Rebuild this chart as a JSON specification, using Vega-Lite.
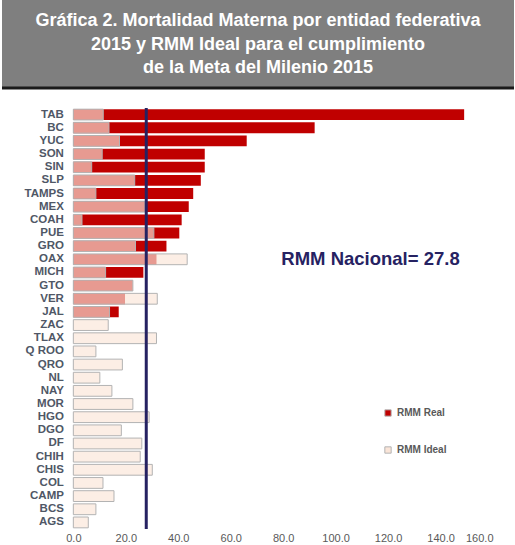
{
  "$schema": "https://vega.github.io/schema/vega-lite/v6.json",
  "padding": 0,
  "spacing": 16,
  "config": {"view": {"stroke": null}},
  "vconcat": [
    {
      "width": 512,
      "height": 88,
      "view": {"fill": "#7f7f7f", "stroke": null},
      "layer": [
        {
          "data": {"values": [
            {"line": "Gráfica 2. Mortalidad Materna por entidad federativa", "pos": 20.5},
            {"line": "2015 y RMM Ideal para el cumplimiento", "pos": 44.5},
            {"line": "de la Meta del Milenio 2015", "pos": 68}
          ]},
          "mark": {"type": "text", "font": "Liberation Sans", "fontSize": 18, "fontWeight": "bold", "color": "white", "baseline": "middle", "align": "center"},
          "encoding": {
            "y": {"field": "pos", "type": "quantitative", "scale": {"domain": [0, 88], "reverse": true, "nice": false, "zero": false}, "axis": null},
            "text": {"field": "line", "type": "nominal"}
          }
        },
        {
          "data": {"values": [{"edge": 88}]},
          "mark": {"type": "rule", "color": "#1a1a1a", "strokeWidth": 3},
          "encoding": {"y": {"field": "edge", "type": "quantitative"}}
        }
      ]
    },
    {
      "width": 491,
      "height": 421,
      "data": {"values": [
        {"state": "TAB", "real": 149.0, "ideal": 11.4},
        {"state": "BC", "real": 92.0, "ideal": 13.6},
        {"state": "YUC", "real": 66.1, "ideal": 17.6},
        {"state": "SON", "real": 50.1, "ideal": 11.0},
        {"state": "SIN", "real": 50.1, "ideal": 7.0},
        {"state": "SLP", "real": 48.6, "ideal": 23.4},
        {"state": "TAMPS", "real": 45.7, "ideal": 8.6},
        {"state": "MEX", "real": 44.0, "ideal": 27.3},
        {"state": "COAH", "real": 41.3, "ideal": 3.3},
        {"state": "PUE", "real": 40.4, "ideal": 30.7},
        {"state": "GRO", "real": 35.5, "ideal": 23.7},
        {"state": "OAX", "real": 31.7, "ideal": 43.4},
        {"state": "MICH", "real": 26.7, "ideal": 12.3},
        {"state": "GTO", "real": 22.6, "ideal": 22.7},
        {"state": "VER", "real": 19.7, "ideal": 32.0},
        {"state": "JAL", "real": 17.3, "ideal": 13.8},
        {"state": "ZAC", "real": null, "ideal": 13.3},
        {"state": "TLAX", "real": null, "ideal": 31.7},
        {"state": "Q ROO", "real": null, "ideal": 8.6},
        {"state": "QRO", "real": null, "ideal": 18.7},
        {"state": "NL", "real": null, "ideal": 10.1},
        {"state": "NAY", "real": null, "ideal": 14.7},
        {"state": "MOR", "real": null, "ideal": 22.7},
        {"state": "HGO", "real": null, "ideal": 28.9},
        {"state": "DGO", "real": null, "ideal": 18.3},
        {"state": "DF", "real": null, "ideal": 26.1},
        {"state": "CHIH", "real": null, "ideal": 25.5},
        {"state": "CHIS", "real": null, "ideal": 30.1},
        {"state": "COL", "real": null, "ideal": 11.3},
        {"state": "CAMP", "real": null, "ideal": 15.5},
        {"state": "BCS", "real": null, "ideal": 8.6},
        {"state": "AGS", "real": null, "ideal": 5.7}
      ]},
      "layer": [
        {
          "mark": {"type": "bar"},
          "encoding": {
            "y": {"field": "state", "type": "nominal", "sort": null,
              "scale": {"paddingInner": 0.18, "paddingOuter": 0.09},
              "axis": null},
            "x": {"field": "real", "type": "quantitative",
              "scale": {"domain": [-27.2, 160], "nice": false, "zero": false},
              "axis": {"title": null, "format": ".1f", "values": [0, 20, 40, 60, 80, 100, 120, 140, 160], "grid": false, "domain": false, "ticks": false, "labelPadding": 3, "labelFont": "Liberation Sans", "labelFontSize": 11, "labelColor": "#595959"}},
            "color": {"datum": "RMM Real", "type": "nominal",
              "scale": {"domain": ["RMM Real", "RMM Ideal"], "range": ["#C00000", "#FAE5D8"]},
              "legend": {"orient": "none", "legendX": 381, "legendY": 408, "title": null, "padding": 0, "symbolType": "square", "symbolSize": 40, "symbolStrokeColor": "#a6a6a6", "symbolStrokeWidth": 1, "symbolOpacity": 1, "labelFont": "Liberation Sans", "labelFontSize": 10, "labelFontWeight": "bold", "labelColor": "#595959", "labelOffset": 4, "rowPadding": 25}}
          }
        },
        {
          "mark": {"type": "bar", "fillOpacity": 0.67, "stroke": "#b3b3b3", "strokeWidth": 1},
          "encoding": {
            "y": {"field": "state", "type": "nominal", "sort": null},
            "x": {"field": "ideal", "type": "quantitative"},
            "color": {"datum": "RMM Ideal", "type": "nominal"}
          }
        },
        {
          "mark": {"type": "text", "font": "Liberation Sans", "fontSize": 11.5, "fontWeight": "bold", "color": "#4f5766", "align": "right", "baseline": "middle"},
          "encoding": {
            "y": {"field": "state", "type": "nominal", "sort": null},
            "x": {"datum": -3.6, "type": "quantitative"},
            "text": {"field": "state", "type": "nominal"}
          }
        },
        {
          "data": {"values": [{"nacional": 27.8}]},
          "mark": {"type": "rule", "color": "#262262", "strokeWidth": 3},
          "encoding": {"x": {"field": "nacional", "type": "quantitative"}}
        },
        {
          "data": {"values": [{"label": "RMM Nacional= 27.8", "xpos": 79.3, "row": "OAX"}]},
          "mark": {"type": "text", "font": "Liberation Sans", "fontSize": 18.5, "fontWeight": "bold", "color": "#262262", "align": "left", "baseline": "middle"},
          "encoding": {
            "x": {"field": "xpos", "type": "quantitative"},
            "y": {"field": "row", "type": "nominal", "sort": null},
            "text": {"field": "label", "type": "nominal"}
          }
        }
      ]
    }
  ]
}
